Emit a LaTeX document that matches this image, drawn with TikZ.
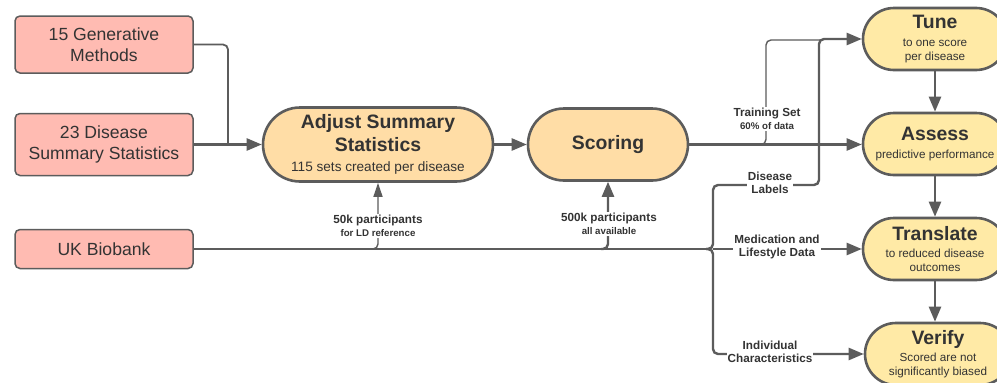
\documentclass[tikz,border=0pt]{standalone}
\usepackage{fontspec}
\setmainfont{Liberation Sans}
\usetikzlibrary{arrows.meta}
\definecolor{pinkf}{RGB}{255,187,178}
\definecolor{orf}{RGB}{255,221,166}
\definecolor{yelf}{RGB}{255,234,166}
\definecolor{ln}{RGB}{92,92,92}
\definecolor{tx}{RGB}{51,51,51}
\newcommand\Ttl[1]{{\fontsize{19.4}{23}\selectfont\bfseries #1}}
\newcommand\Lsm[1]{{\fontsize{9.7}{12}\selectfont\bfseries #1}}
\tikzset{
 src/.style={draw=ln, line width=1.5pt, fill=pinkf, rounded corners=5pt, minimum width=178pt, text=tx, align=center, font=\fontsize{17.6}{21}\selectfont, inner sep=0pt},
 stad/.style={draw=ln, line width=2.6pt, text=tx, align=center, inner sep=0pt},
 proc/.style={stad, fill=orf},
 res/.style={stad, fill=yelf, minimum width=144pt, minimum height=62pt, rounded corners=31pt, font=\fontsize{11.7}{14}\selectfont},
 conn/.style={draw=ln, line width=2.4pt, -{Triangle[length=15pt,width=12pt]}},
 wire/.style={draw=ln, line width=2.4pt},
 thinw/.style={draw=ln, line width=1.4pt},
 midw/.style={draw=ln, line width=1.8pt},
 lab/.style={fill=white, text=tx, align=center, inner sep=1pt, font=\fontsize{11.7}{13.5}\selectfont\bfseries},
}
\begin{document}
\begin{tikzpicture}[x=1pt,y=-1pt]
\useasboundingbox (0,0) rectangle (997,383);
\clip (0,0) rectangle (997,383);
\fill[white] (0,0) rectangle (997,383);
% sources
\node[src, minimum height=57pt] (gen) at (104,44.5) {15 Generative\\Methods};
\node[src, minimum height=62pt] (dis) at (104,144.5) {23 Disease\\Summary Statistics};
\node[src, minimum height=39pt] (ukb) at (104,249) {UK Biobank};
% process
\node[proc, minimum width=230pt, minimum height=74pt, rounded corners=37pt, font=\fontsize{19.4}{23}\selectfont] (adj) at (378,144.5)
 {\Ttl{Adjust Summary}\\\Ttl{Statistics}\\[-3.5pt]{\fontsize{13.6}{16}\selectfont 115 sets created per disease}};
\node[proc, minimum width=160pt, minimum height=72pt, rounded corners=36pt] (sco) at (608,144.5) {\Ttl{Scoring}};
% results
\node[res] (tune) at (935,39) {\Ttl{Tune}\\[3.5pt]to one score\\per disease};
\node[res] (assess) at (935,144) {\Ttl{Assess}\\[3.5pt]predictive performance};
\node[res] (transl) at (935,249) {\Ttl{Translate}\\[3.5pt]to reduced disease\\outcomes};
\node[res, minimum width=146pt] (verify) at (938,354) {\Ttl{Verify}\\[3.5pt]Scored are not\\significantly biased};
% left connectors
\draw[midw, rounded corners=5pt] (gen.east) -| (228,144.5);
\draw[conn] (dis.east) -- (adj.west);
\draw[conn] (adj.east) -- (sco.west);
\draw[conn] (sco.east) -- (sco.east -| assess.west);
% training set branch
\draw[thinw, rounded corners=5pt] (760,144.5) -| (766,40) -- (822,40);
% UK Biobank trunk and brace
\draw[wire] (ukb.east) -- (707,249);
\draw[conn, rounded corners=5pt] (706,249) -| (713,185) -- (819,185) |- (tune.west);
\draw[conn, rounded corners=5pt] (706,249) -| (713,354) -- (verify.west);
\draw[conn] (713,249) -- (transl.west);
% branches up
\draw[thinw, rounded corners=5pt, -{Triangle[length=14pt,width=9pt]}] (371,249) -| (adj.south);
\draw[conn, rounded corners=5pt] (601,249) -| (sco.south);
% vertical flow
\draw[conn] (tune.south) -- (assess.north);
\draw[conn] (assess.south) -- (transl.north);
\draw[conn] (transl.south) -- (transl.south |- verify.north);
% labels
\node[lab] (l50) at (378,226) {50k participants\\\Lsm{for LD reference}};
\node[lab] (l500) at (609,224) {500k participants\\\Lsm{all available}};
\node[lab] (ltr) at (767,119) {Training Set\\\Lsm{60\% of data}};
\node[lab] (ldl) at (770,183) {Disease\\Labels};
\node[lab] (lmed) at (777,247) {Medication and\\Lifestyle Data};
\node[lab] (lind) at (770,352) {Individual\\Characteristics};
\end{tikzpicture}
\end{document}
